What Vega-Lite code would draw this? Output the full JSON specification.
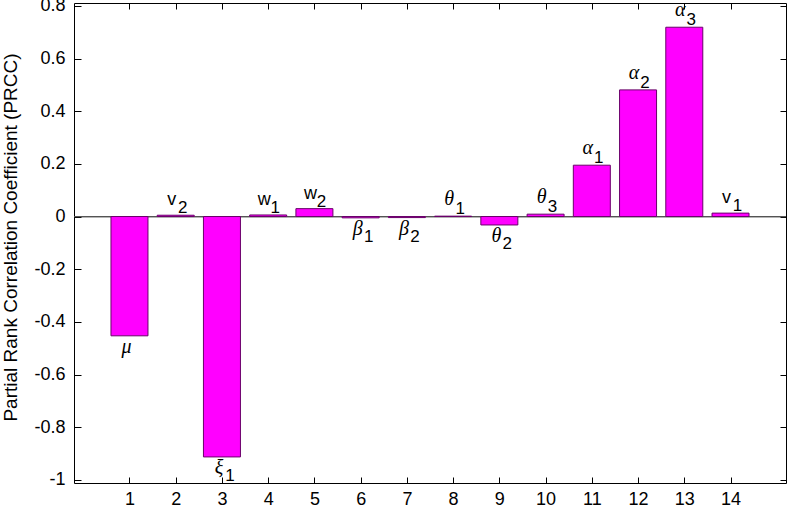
{
  "$schema": "https://vega.github.io/schema/vega-lite/v6.json",
  "width": 712,
  "height": 480,
  "autosize": {"type": "none"},
  "padding": {"left": 74, "top": 3, "right": 1, "bottom": 28},
  "background": "#ffffff",
  "config": {
    "view": {"stroke": "#000000", "strokeWidth": 1},
    "axis": {
      "grid": false,
      "domainColor": "#000000",
      "tickColor": "#000000",
      "labelColor": "#000000",
      "labelFont": "Liberation Sans",
      "titleFont": "Liberation Sans",
      "labelFontSize": 18,
      "titleFontWeight": "normal",
      "titleColor": "#000000"
    }
  },
  "data": {
    "values": [
      {"i": 1, "v": -0.453, "sym": "μ", "sub": ""},
      {"i": 2, "v": 0.005, "sym": "v", "sub": "2"},
      {"i": 3, "v": -0.913, "sym": "ξ", "sub": "1"},
      {"i": 4, "v": 0.006, "sym": "w", "sub": "1"},
      {"i": 5, "v": 0.030, "sym": "w", "sub": "2"},
      {"i": 6, "v": -0.005, "sym": "β", "sub": "1"},
      {"i": 7, "v": -0.004, "sym": "β", "sub": "2"},
      {"i": 8, "v": 0.0015, "sym": "θ", "sub": "1"},
      {"i": 9, "v": -0.032, "sym": "θ", "sub": "2"},
      {"i": 10, "v": 0.009, "sym": "θ", "sub": "3"},
      {"i": 11, "v": 0.195, "sym": "α", "sub": "1"},
      {"i": 12, "v": 0.481, "sym": "α", "sub": "2"},
      {"i": 13, "v": 0.719, "sym": "α", "sub": "3"},
      {"i": 14, "v": 0.013, "sym": "v", "sub": "1"}
    ]
  },
  "layer": [
    {
      "mark": {"type": "rule", "color": "#555555", "strokeWidth": 1},
      "encoding": {
        "y": {"datum": 0, "type": "quantitative", "scale": {"domain": [-1.012, 0.811], "nice": false, "zero": false, "padding": 0}, "axis": null}
      }
    },
    {
      "mark": {"type": "bar", "size": 37, "color": "#ff00ff", "stroke": "#6a006a", "strokeWidth": 1},
      "encoding": {
        "x": {"field": "i", "type": "quantitative", "scale": {"domain": [-0.2, 15.2], "nice": false, "zero": false, "padding": 0},
          "axis": {"orient": "bottom", "values": [1,2,3,4,5,6,7,8,9,10,11,12,13,14], "format": "d", "title": null, "tickSize": -6, "labelPadding": 13, "domain": false}},
        "y": {"field": "v", "type": "quantitative", "scale": {"domain": [-1.012, 0.811], "nice": false, "zero": false, "padding": 0},
          "axis": {"orient": "left", "values": [-1,-0.8,-0.6,-0.4,-0.2,0,0.2,0.4,0.6,0.8], "labelExpr": "replace(format(datum.value, '.1~f'), '−', '-')", "tickSize": -7, "labelPadding": 16, "domain": false,
            "title": "Partial Rank Correlation Coefficient (PRCC)", "titleFontSize": 19, "titleX": -64, "titleY": 234, "titleAngle": -90, "titleAlign": "center", "titleBaseline": "middle"}}
      }
    },
    {
      "mark": {"type": "bar", "size": 37, "opacity": 0},
      "encoding": {
        "x": {"field": "i", "type": "quantitative", "scale": {"domain": [-0.2, 15.2], "nice": false, "zero": false, "padding": 0},
          "axis": {"orient": "top", "values": [1,2,3,4,5,6,7,8,9,10,11,12,13,14], "labels": false, "title": null, "tickSize": -6, "domain": false}},
        "y": {"field": "v", "type": "quantitative", "scale": {"domain": [-1.012, 0.811], "nice": false, "zero": false, "padding": 0},
          "axis": {"orient": "right", "values": [-1,-0.8,-0.6,-0.4,-0.2,0,0.2,0.4,0.6,0.8], "labels": false, "title": null, "tickSize": -6, "domain": false}}
      }
    },
    {
      "transform": [{"filter": "datum.v >= 0 && (datum.sym == 'v' || datum.sym == 'w')"}],
      "mark": {"type": "text", "font": "Liberation Sans", "fontSize": 18, "baseline": "alphabetic", "align": "center", "dx": -4, "dy": -10, "color": "#000000"},
      "encoding": {
        "x": {"field": "i", "type": "quantitative", "axis": null},
        "y": {"field": "v", "type": "quantitative", "axis": null},
        "text": {"field": "sym"}
      }
    },
    {
      "transform": [{"filter": "datum.v >= 0 && datum.sym != 'v' && datum.sym != 'w'"}],
      "mark": {"type": "text", "font": "Liberation Serif", "fontStyle": "italic", "fontSize": 20, "baseline": "alphabetic", "align": "center", "dx": -4, "dy": -11, "color": "#000000"},
      "encoding": {
        "x": {"field": "i", "type": "quantitative", "axis": null},
        "y": {"field": "v", "type": "quantitative", "axis": null},
        "text": {"field": "sym"}
      }
    },
    {
      "transform": [{"filter": "datum.v >= 0"}],
      "mark": {"type": "text", "font": "Liberation Sans", "fontSize": 17, "baseline": "alphabetic", "align": "center", "dx": 7, "dy": -2, "color": "#000000"},
      "encoding": {
        "x": {"field": "i", "type": "quantitative", "axis": null},
        "y": {"field": "v", "type": "quantitative", "axis": null},
        "text": {"field": "sub"}
      }
    },
    {
      "transform": [{"filter": "datum.v < 0"}],
      "mark": {"type": "text", "font": "Liberation Serif", "fontStyle": "italic", "fontSize": 20, "baseline": "alphabetic", "align": "center", "dx": -3, "dy": 17, "color": "#000000"},
      "encoding": {
        "x": {"field": "i", "type": "quantitative", "axis": null},
        "y": {"field": "v", "type": "quantitative", "axis": null},
        "text": {"field": "sym"}
      }
    },
    {
      "transform": [{"filter": "datum.v < 0"}],
      "mark": {"type": "text", "font": "Liberation Sans", "fontSize": 17, "baseline": "alphabetic", "align": "center", "dx": 8, "dy": 24, "color": "#000000"},
      "encoding": {
        "x": {"field": "i", "type": "quantitative", "axis": null},
        "y": {"field": "v", "type": "quantitative", "axis": null},
        "text": {"field": "sub"}
      }
    }
  ],
  "resolve": {"axis": {"x": "independent", "y": "independent"}}
}
